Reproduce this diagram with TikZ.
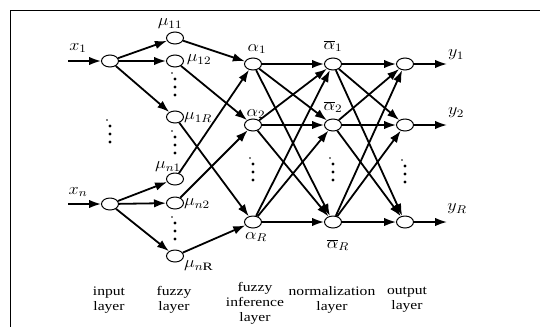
\RequirePackage{fix-cm}
\documentclass[tikz,border=0pt]{standalone}
\usepackage{fontspec}
\setmainfont{Liberation Serif}[FakeStretch=1.2]
\usetikzlibrary{arrows.meta,shapes.geometric}
\newcommand\wlab[1]{\scalebox{1.3}[1.15]{$#1$}}
\begin{document}
\begin{tikzpicture}[x=1pt,y=-1pt,
  neuron/.style={draw,ellipse,minimum width=17pt,minimum height=12pt,inner sep=0pt,line width=1pt,fill=white},
  conn/.style={line width=1.8pt,-{Latex[length=12pt,width=8.5pt]}},
  lbl/.style={font=\fontsize{13}{15}\selectfont,align=center,inner sep=0pt},
  ml/.style={font=\fontsize{14}{16}\selectfont,inner sep=0pt},
  vdts/.pic={\fill (-3,0) circle (0.8); \fill (0,6) circle (1.7); \fill (0,14) circle (1.7); \fill (0,22) circle (1.7);}]
\useasboundingbox (0,0) rectangle (540,327);
\draw[line width=0.9pt] (540,10) -- (10,10) -- (10,327);
% input layer
\node[neuron] (i1) at (110,61) {};
\node[neuron] (iN) at (110,204) {};
\coordinate (s1) at (68,61);
\coordinate (sN) at (68,204);
% fuzzy layer
\node[neuron] (f11) at (175,38) {};
\node[neuron] (f12) at (175,61) {};
\node[neuron] (f1R) at (175,117) {};
\node[neuron] (fn1) at (175,179) {};
\node[neuron] (fn2) at (175,203) {};
\node[neuron] (fnR) at (175,256) {};
% inference layer
\node[neuron] (a1) at (253,64) {};
\node[neuron] (a2) at (253,125) {};
\node[neuron] (aR) at (253,222) {};
% normalization layer
\node[neuron] (b1) at (333,64) {};
\node[neuron] (b2) at (333,125) {};
\node[neuron] (bR) at (333,222) {};
% output layer
\node[neuron] (o1) at (405,64) {};
\node[neuron] (o2) at (405,125) {};
\node[neuron] (oR) at (405,222) {};
\coordinate (e1) at (447,64);
\coordinate (e2) at (447,125);
\coordinate (eR) at (447,222);
% connectors
\draw[conn] (s1) -- (i1);
\draw[conn] (sN) -- (iN);
\draw[conn] (i1) -- (f11);
\draw[conn] (i1) -- (f12);
\draw[conn] (i1) -- (f1R);
\draw[conn] (iN) -- (fn1);
\draw[conn] (iN) -- (fn2);
\draw[conn] (iN) -- (fnR);
\draw[conn] (f11) -- (a1);
\draw[conn] (f12) -- (a2);
\draw[conn] (f1R) -- (aR);
\draw[conn] (fn1) -- (a1);
\draw[conn] (fn2) -- (a2);
\draw[conn] (fnR) -- (aR);
\foreach \a in {a1,a2,aR}{\foreach \b in {b1,b2,bR}{\draw[conn] (\a) -- (\b);}}
\foreach \b in {b1,b2,bR}{\foreach \o in {o1,o2,oR}{\draw[conn] (\b) -- (\o);}}
\draw[conn] (o1) -- (e1);
\draw[conn] (o2) -- (e2);
\draw[conn] (oR) -- (eR);
% dots
\pic at (110,120) {vdts};
\pic at (175,73) {vdts};
\pic at (175,131) {vdts};
\pic at (175,217) {vdts};
\pic at (253,158) {vdts};
\pic at (333,158) {vdts};
\pic at (405,160) {vdts};
% math labels
\node[ml] (lx1) at (78,48) {\wlab{x_1}};
\node[ml] (lxn) at (78,192) {\wlab{x_n}};
\node[ml] (l11) at (170,24) {\wlab{\mu_{11}}};
\node[ml] (l12) at (199,60) {\wlab{\mu_{12}}};
\node[ml] (l1R) at (198,118) {\wlab{\mu_{1R}}};
\node[ml] (ln1) at (168,167) {\wlab{\mu_{n1}}};
\node[ml] (ln2) at (197,204) {\wlab{\mu_{n2}}};
\node[ml] (lnR) at (198,266) {\wlab{\mu_{n\mathrm{R}}}};
\node[ml] (la1) at (257,49) {\wlab{\alpha_1}};
\node[ml] (la2) at (256,114) {\wlab{\alpha_2}};
\node[ml] (laR) at (256,237) {\wlab{\alpha_R}};
\node[ml] (lb1) at (333,46) {\wlab{\overline{\alpha}_1}};
\node[ml] (lb2) at (333,107) {\wlab{\overline{\alpha}_2}};
\node[ml] (lbR) at (338,245) {\wlab{\overline{\alpha}_R}};
\node[ml] (ly1) at (456,55) {\wlab{y_1}};
\node[ml] (ly2) at (456,113) {\wlab{y_2}};
\node[ml] (lyR) at (457,209) {\wlab{y_R}};
% layer names
\node[lbl] (t1) at (109,300) {input\\layer};
\node[lbl] (t2) at (174,300) {fuzzy\\layer};
\node[lbl] (t3) at (255,303) {fuzzy\\inference\\layer};
\node[lbl] (t4) at (332,300) {normalization\\layer};
\node[lbl] (t5) at (407,300) {output\\layer};
\end{tikzpicture}
\end{document}
